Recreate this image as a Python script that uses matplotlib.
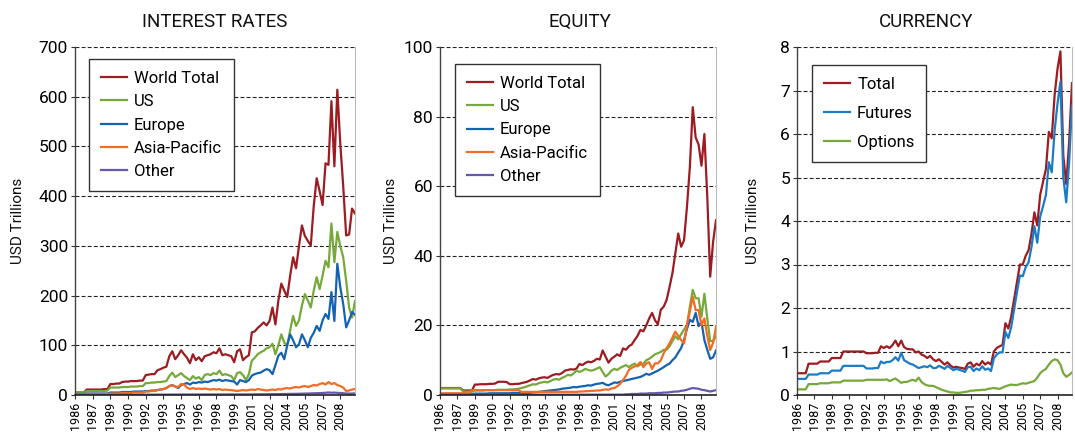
import matplotlib
matplotlib.use("Agg")
import matplotlib.pyplot as plt
import numpy as np

plt.rcParams['font.family'] = ['Roboto', 'DejaVu Sans']

# quarterly data, 1986Q1 .. 2009Q4, USD trillions
tick_years = ['1986', '1987', '1989', '1990', '1992', '1993', '1995', '1996',
              '1998', '1999', '2001', '2002', '2004', '2005', '2007', '2008']

ir_total = [5, 5, 5, 5, 11, 11, 11, 11, 11, 11, 12, 12, 22, 22, 23, 23,
            26, 27, 27, 28, 28, 28, 29, 29, 40, 41, 42, 42, 50, 52, 55, 57,
            78, 88, 72, 80, 90, 82, 75, 64, 82, 70, 76, 68, 78, 80, 82, 86,
            84, 94, 80, 82, 80, 78, 66, 88, 92, 70, 76, 80, 126, 128, 135, 140,
            146, 140, 149, 176, 142, 190, 224, 210, 197, 240, 277, 255,
            300, 341, 320, 310, 301, 380, 436, 410, 382, 466, 463, 591,
            460, 614, 506, 420, 321, 323, 375, 365]
ir_us = [5, 5, 5, 5, 8, 8, 8, 8, 8, 8, 8, 9, 15, 15, 15, 15,
         16, 16, 16, 17, 17, 17, 18, 18, 24, 24, 25, 25, 26, 26, 27, 28,
         38, 45, 36, 40, 44, 38, 34, 30, 38, 33, 36, 30, 40, 42, 40, 44,
         42, 49, 40, 42, 40, 38, 30, 44, 46, 40, 30, 42, 69, 75, 82, 86,
         89, 94, 96, 103, 82, 100, 122, 105, 100, 130, 159, 139,
         150, 180, 203, 190, 176, 210, 237, 213, 240, 270, 257, 345,
         267, 328, 300, 277, 230, 176, 156, 189]
ir_eu = [2, 2, 2, 2, 3, 3, 3, 3, 3, 3, 3, 3, 5, 5, 5, 5,
         6, 6, 6, 6, 7, 7, 7, 7, 8, 8, 9, 9, 10, 11, 12, 14,
         18, 20, 17, 14, 20, 22, 24, 21, 25, 24, 26, 25, 27, 26, 28, 30,
         29, 31, 28, 30, 29, 28, 27, 21, 30, 28, 26, 30, 39, 42, 44, 45,
         49, 52, 50, 42, 60, 79, 85, 72, 100, 122, 110, 96,
         102, 122, 110, 96, 115, 125, 139, 129, 150, 163, 153, 207,
         149, 264, 217, 183, 136, 150, 167, 161]
ir_ap = [1, 1, 1, 1, 2, 2, 2, 2, 2, 2, 2, 2, 3, 3, 3, 3,
         4, 4, 4, 4, 5, 5, 5, 5, 7, 7, 8, 8, 10, 11, 12, 14,
         18, 20, 17, 16, 22, 21, 15, 12, 14, 12, 13, 12, 13, 12, 11, 12,
         11, 12, 10, 11, 10, 10, 9, 8, 9, 10, 9, 10, 11, 10, 12, 11,
         10, 9, 10, 11, 10, 12, 11, 13, 14, 13, 15, 16,
         15, 17, 18, 16, 18, 20, 19, 22, 24, 21, 26, 22,
         24, 20, 18, 15, 8, 9, 11, 12]
ir_other = [0.3, 0.3, 0.3, 0.3, 0.4, 0.4, 0.4, 0.4, 0.4, 0.4, 0.4, 0.4,
            0.5, 0.5, 0.5, 0.5, 0.6, 0.6, 0.6, 0.6, 0.6, 0.6, 0.6, 0.6,
            0.7, 0.7, 0.7, 0.7, 0.8, 0.8, 0.8, 0.8, 0.9, 0.9, 0.9, 0.9,
            1.0, 1.0, 1.0, 1.0, 1.0, 1.0, 1.0, 1.0, 1.1, 1.1, 1.1, 1.1,
            1.1, 1.1, 1.1, 1.1, 1.2, 1.2, 1.2, 1.2, 1.2, 1.2, 1.2, 1.2,
            1.3, 1.3, 1.4, 1.4, 1.5, 1.5, 1.6, 1.6, 1.7, 1.8, 1.9, 2.0,
            2.1, 2.2, 2.3, 2.4, 2.5, 2.7, 2.9, 3.0, 3.2, 3.4, 3.6, 3.8,
            4.0, 4.5, 5.0, 4.6, 4.8, 4.4, 4.0, 3.6, 3.0, 2.8, 3.0, 3.2]

eq_total = [2, 2, 2, 2, 2, 2, 2, 2, 1.3, 1.3, 1.3, 1.3, 3.0, 3.0, 3.1, 3.1,
            3.1, 3.2, 3.2, 3.3, 3.8, 3.8, 3.8, 3.7, 3.1, 3.1, 3.2, 3.2,
            3.4, 3.6, 3.8, 4.2, 4.6, 4.4, 4.8, 5.0, 5.1, 4.9, 5.4, 5.8,
            6.0, 5.9, 6.3, 7.0, 7.2, 7.4, 7.3, 7.6, 8.9, 8.6, 9.2, 9.6,
            9.4, 9.8, 10.4, 10.2, 12.8, 11.0, 9.3, 10.4, 11.0, 11.7, 11.2, 13.4,
            13.0, 14.0, 14.5, 15.8, 17.0, 18.7, 18.3, 20.0, 22.0, 23.6, 21.5, 20.3,
            24.5, 25.4, 27.3, 31.0, 35.0, 40.7, 46.4, 42.6, 44.5, 54.0, 65.5, 82.7,
            74.0, 72.0, 65.9, 75.0, 56.9, 34.0, 44.0, 50.2]
eq_us = [1.9, 1.9, 1.9, 1.9, 1.9, 1.9, 1.9, 1.9, 1.0, 1.0, 1.0, 1.0,
         1.3, 1.3, 1.3, 1.3, 1.4, 1.4, 1.4, 1.4, 1.5, 1.5, 1.5, 1.5,
         1.6, 1.6, 1.7, 1.8, 2.0, 2.2, 2.5, 2.8, 3.1, 3.0, 3.4, 3.6,
         3.8, 3.6, 4.0, 4.4, 4.6, 4.4, 4.9, 5.3, 5.8, 5.6, 6.2, 7.0,
         6.6, 7.0, 7.5, 7.2, 7.0, 7.2, 7.6, 8.0, 6.6, 5.3, 6.0, 7.0,
         7.5, 7.2, 7.8, 8.2, 8.6, 8.0, 8.6, 9.0, 8.2, 8.8, 9.0, 10.0,
         10.4, 11.0, 11.7, 12.0, 12.4, 13.0, 13.0, 14.0, 15.5, 16.9, 16.0, 17.5,
         18.8, 20.0, 25.4, 30.2, 27.8, 27.8, 22.5, 29.1, 22.0, 15.5, 15.5, 16.9]
eq_eu = [0.3, 0.3, 0.3, 0.3, 0.3, 0.3, 0.3, 0.3, 0.3, 0.3, 0.3, 0.3,
         0.4, 0.4, 0.4, 0.4, 0.4, 0.5, 0.5, 0.5, 0.5, 0.5, 0.5, 0.5,
         0.5, 0.6, 0.6, 0.6, 0.6, 0.6, 0.6, 0.6, 0.8, 0.8, 0.9, 1.0,
         1.1, 1.2, 1.3, 1.4, 1.5, 1.6, 1.8, 1.9, 2.0, 2.1, 2.3, 2.2,
         2.4, 2.5, 2.6, 2.8, 2.7, 3.0, 3.2, 3.3, 3.5, 3.0, 2.8, 3.2,
         3.6, 3.5, 3.8, 4.0, 4.2, 4.4, 4.6, 4.8, 5.0, 5.2, 5.6, 6.1,
         5.8, 6.2, 6.6, 7.0, 7.5, 8.0, 8.6, 9.0, 10.0, 10.8, 12.2, 13.5,
         15.8, 19.0, 21.6, 21.0, 23.6, 19.8, 21.0, 15.8, 13.0, 10.4, 10.8, 12.8]
eq_ap = [0.5, 0.5, 0.5, 0.5, 0.5, 0.5, 0.5, 0.5, 0.5, 0.5, 0.5, 1.4,
         1.4, 1.4, 1.4, 1.4, 1.4, 1.4, 1.4, 1.4, 1.4, 1.4, 1.4, 1.4,
         1.4, 1.4, 1.4, 1.4, 0.9, 0.9, 0.9, 0.9, 0.9, 0.9, 0.9, 0.9,
         0.9, 0.9, 0.9, 0.9, 0.9, 0.9, 0.9, 0.9, 0.9, 0.9, 0.9, 0.9,
         1.0, 1.0, 1.1, 1.1, 1.2, 1.2, 1.3, 1.3, 1.5, 1.6, 1.5, 1.9,
         2.0, 2.5, 3.2, 4.3, 5.5, 7.2, 7.8, 8.2, 8.6, 9.5, 8.0, 9.1,
         9.4, 7.5, 9.1, 9.1, 10.0, 12.0, 13.5, 14.8, 16.5, 18.2, 17.0, 15.8,
         14.8, 20.0, 24.0, 28.2, 24.4, 24.4, 20.0, 22.0, 17.0, 12.9, 15.0, 19.6]
eq_other = [0.1] * 64 + [0.2, 0.2, 0.3, 0.3, 0.3, 0.4, 0.4, 0.4,
                         0.5, 0.5, 0.5, 0.6, 0.6, 0.7, 0.7, 0.8,
                         0.9, 1.0, 1.0, 1.2, 1.3, 1.5, 1.8, 2.0,
                         1.9, 1.8, 1.5, 1.4, 1.2, 1.0, 1.2, 1.4]

cur_total = [0.5, 0.5, 0.5, 0.5, 0.72, 0.72, 0.72, 0.72, 0.77, 0.77, 0.77, 0.77,
             0.85, 0.85, 0.85, 0.85, 1.0, 1.0, 1.0, 1.0, 1.0, 1.0, 1.0, 1.0,
             0.96, 0.96, 0.96, 0.97, 0.97, 1.12, 1.08, 1.12, 1.08, 1.15, 1.25, 1.12,
             1.25, 1.1, 1.06, 1.05, 1.05, 0.98, 1.0, 0.93, 0.9, 0.85, 0.9, 0.82,
             0.78, 0.82, 0.76, 0.7, 0.75, 0.68, 0.63, 0.65, 0.63, 0.62, 0.6, 0.72,
             0.75, 0.65, 0.72, 0.68, 0.78, 0.7, 0.75, 0.7, 1.0, 1.08, 1.12, 1.15,
             1.65, 1.53, 1.8, 2.2, 2.6, 3.0, 3.0, 3.2, 3.33, 3.7, 4.2, 3.9,
             4.6, 4.9, 5.2, 6.05, 5.9, 6.9, 7.5, 7.9, 5.5, 4.85, 5.8, 7.17]
cur_fut = [0.37, 0.37, 0.37, 0.37, 0.47, 0.47, 0.47, 0.47, 0.5, 0.5, 0.5, 0.5,
           0.56, 0.56, 0.56, 0.56, 0.67, 0.67, 0.67, 0.67, 0.67, 0.67, 0.67, 0.67,
           0.61, 0.61, 0.61, 0.62, 0.62, 0.77, 0.73, 0.76, 0.76, 0.8, 0.87, 0.79,
           0.97, 0.8, 0.76, 0.72, 0.7, 0.66, 0.62, 0.64, 0.66, 0.64, 0.68, 0.62,
           0.62, 0.67, 0.64, 0.6, 0.67, 0.62, 0.57, 0.6, 0.58, 0.56, 0.53, 0.64,
           0.65, 0.55, 0.61, 0.57, 0.66, 0.58, 0.61, 0.55, 0.84, 0.93, 0.98, 0.98,
           1.45, 1.31, 1.56, 1.97, 2.37, 2.75, 2.73, 2.94, 3.05, 3.4, 3.88, 3.5,
           4.1, 4.34, 4.6, 5.35, 5.12, 6.08, 6.7, 7.2, 5.0, 4.43, 5.34, 6.65]
cur_opt = [0.13, 0.13, 0.13, 0.13, 0.25, 0.25, 0.25, 0.25, 0.27, 0.27, 0.27, 0.27,
           0.29, 0.29, 0.29, 0.29, 0.33, 0.33, 0.33, 0.33, 0.33, 0.33, 0.33, 0.33,
           0.35, 0.35, 0.35, 0.35, 0.35, 0.35, 0.35, 0.36, 0.32, 0.35, 0.38, 0.33,
           0.28, 0.3, 0.3, 0.33, 0.35, 0.32, 0.4, 0.3, 0.25, 0.22, 0.21, 0.21,
           0.18, 0.15, 0.12, 0.1, 0.08, 0.06, 0.06, 0.05, 0.05, 0.06, 0.07, 0.08,
           0.1, 0.1, 0.11, 0.11, 0.12, 0.12, 0.14, 0.15, 0.16, 0.15, 0.14, 0.17,
           0.2, 0.22, 0.24, 0.23, 0.23, 0.25, 0.27, 0.26, 0.28, 0.3, 0.32, 0.4,
           0.5, 0.56, 0.6, 0.7, 0.78, 0.82, 0.8, 0.7, 0.5, 0.42, 0.46, 0.52]

RED = '#9c1c22'
GREEN = '#76a83a'
BLUE = '#1563b0'
ORANGE = '#f36c24'
PURPLE = '#6459b0'
LBLUE = '#1a7cc6'

x = np.arange(len(ir_total))

fig = plt.figure(figsize=(10.75, 4.36), dpi=100)
W, H = 1075.0, 436.0


def make_ax(x0, x1, top=47, bottom=395):
    return fig.add_axes([x0 / W, 1 - bottom / H, (x1 - x0) / W, (bottom - top) / H])


def style(ax, ymax, step, fmt):
    ax.set_xlim(0, len(x) - 1)
    ax.set_ylim(0, ymax)
    ax.set_yticks(np.arange(0, ymax + step / 2, step))
    ax.set_yticklabels([fmt(v) for v in np.arange(0, ymax + step / 2, step)], fontsize=12.5)
    ax.set_xticks(np.arange(0, len(x), 6))
    ax.set_xticklabels(tick_years, rotation=90, fontsize=9)
    ax.tick_params(axis='x', length=3, pad=2, color='#333333')
    ax.tick_params(axis='y', length=3, pad=2, color='#333333')
    ax.yaxis.grid(True, linestyle=(0, (3.5, 2)), color='#222222', lw=0.8)
    ax.set_axisbelow(True)
    ax.spines['top'].set_visible(False)
    ax.spines['right'].set_color('#bbbbbb')
    ax.spines['left'].set_color('#444444')
    ax.spines['bottom'].set_color('#222222')
    ax.spines['left'].set_linewidth(1.0)
    ax.spines['bottom'].set_linewidth(1.2)


def legend(ax, x0, y0, spacing):
    leg = ax.legend(loc='upper left', bbox_to_anchor=(x0, y0), borderaxespad=0,
                    fancybox=False, edgecolor='#333333', fontsize=12,
                    handlelength=1.6, handletextpad=0.4, labelspacing=spacing,
                    borderpad=0.7, framealpha=1)
    leg.get_frame().set_linewidth(1.0)


lw = 1.6

# interest rates
ax1 = make_ax(75, 355)
ax1.plot(x, ir_total, color=RED, lw=lw, label='World Total')
ax1.plot(x, ir_us, color=GREEN, lw=lw, label='US')
ax1.plot(x, ir_eu, color=BLUE, lw=lw, label='Europe')
ax1.plot(x, ir_ap, color=ORANGE, lw=lw, label='Asia-Pacific')
ax1.plot(x, ir_other, color=PURPLE, lw=lw, label='Other')
style(ax1, 700, 100, lambda v: f'{int(v)}')
legend(ax1, 0.05, 0.965, 0.5)

# equity
ax2 = make_ax(440, 716)
ax2.plot(x, eq_total, color=RED, lw=lw, label='World Total')
ax2.plot(x, eq_us, color=GREEN, lw=lw, label='US')
ax2.plot(x, eq_eu, color=BLUE, lw=lw, label='Europe')
ax2.plot(x, eq_ap, color=ORANGE, lw=lw, label='Asia-Pacific')
ax2.plot(x, eq_other, color=PURPLE, lw=lw, label='Other')
style(ax2, 100, 20, lambda v: f'{int(v)}')
legend(ax2, 0.054, 0.951, 0.5)

# currency
ax3 = make_ax(797, 1072)
ax3.plot(x, cur_total, color=RED, lw=lw, label='Total')
ax3.plot(x, cur_fut, color=LBLUE, lw=lw, label='Futures')
ax3.plot(x, cur_opt, color=GREEN, lw=lw, label='Options')
style(ax3, 8, 1, lambda v: f'{int(v)}')
legend(ax3, 0.055, 0.948, 0.85)

for xc, title in [(215, 'INTEREST RATES'), (580, 'EQUITY'), (926, 'CURRENCY')]:
    fig.text(xc / W, 1 - 22 / H, title, ha='center', va='center', fontsize=13.5, color='#111111')

for xc in [18, 391, 753]:
    fig.text(xc / W, 1 - 221 / H, 'USD Trillions', rotation=90, ha='center', va='center',
             fontsize=11, color='#111111')

fig.savefig('out.png', dpi=100)
